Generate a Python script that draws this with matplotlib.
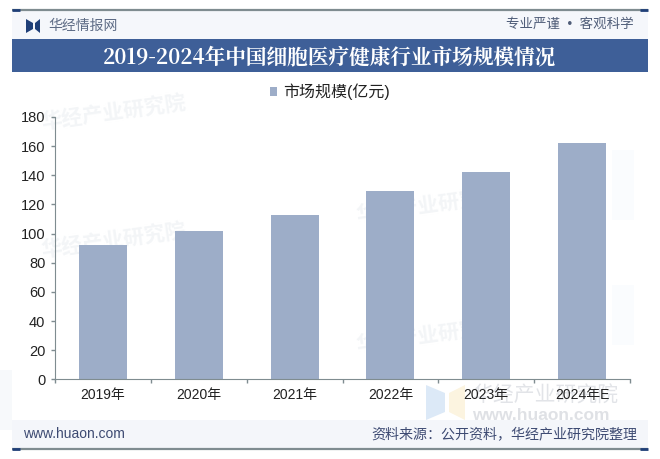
# 2019-2024 cell therapy market size bar chart

import matplotlib.pyplot as plt
from matplotlib.patches import Rectangle, Polygon

plt.rcParams['font.family'] = ['Liberation Sans', 'Noto Sans CJK SC', 'DejaVu Sans']

# Data
years = ['2019年', '2020年', '2021年', '2022年', '2023年', '2024年E']
values = [92, 102, 113, 129, 142, 162]
y_ticks = [0, 20, 40, 60, 80, 100, 120, 140, 160, 180]

W, H = 660, 459
BLUE = '#3e5f98'
BAR = '#9dadc8'
GREY = '#7f8c90'
DARK = '#1f3f78'
CJK = ['Noto Sans CJK SC', 'DejaVu Sans']

fig = plt.figure(figsize=(W / 100, H / 100), dpi=100)

# page layer in pixel coordinates
bg = fig.add_axes([0, 0, 1, 1])
bg.set_xlim(0, W)
bg.set_ylim(H, 0)
bg.axis('off')

# faint background tints
bg.add_patch(Rectangle((12, 11), 636, 28, color='#f5f7fb', lw=0))
bg.add_patch(Rectangle((12, 420), 636, 29, color='#f4f6fa', lw=0))
bg.add_patch(Rectangle((0, 370), 12, 60, color='#f7f9fb', lw=0))
bg.add_patch(Rectangle((612, 150), 22, 70, color='#fafcfe', lw=0))
bg.add_patch(Rectangle((612, 285), 22, 60, color='#fafcfe', lw=0))

# watermarks
for x, y in [(40, 112), (40, 240), (355, 205), (355, 335)]:
    bg.text(x, y, '华经产业研究院', fontsize=15, color='#f3f5f7', rotation=8,
            ha='left', va='center', weight='bold', family=CJK)
bg.add_patch(Polygon([(426, 385), (445, 393), (445, 412), (426, 420)], color='#dce9f7', lw=0))
bg.add_patch(Polygon([(465, 385), (449, 393), (449, 412), (465, 420)], color='#fcf4e0', lw=0))
bg.text(472, 396, '华经产业研究院', fontsize=15, color='#e2e4e8', ha='left', va='center', family=CJK)
bg.text(472, 416, 'www.huaon.com', fontsize=12.5, color='#dfe1e5', ha='left', va='center',
        family='Liberation Sans', weight='bold')

# header and footer rules
bg.plot([12, 648], [10, 10], color=GREY, lw=1.6, solid_capstyle='butt')
bg.plot([12, 20], [10, 10], color=DARK, lw=2, solid_capstyle='butt')
bg.plot([640, 648], [10, 10], color=DARK, lw=2, solid_capstyle='butt')
bg.plot([12, 648], [449, 449], color=GREY, lw=1.6, solid_capstyle='butt')
bg.plot([12, 20], [449, 449], color=DARK, lw=2, solid_capstyle='butt')
bg.plot([640, 648], [449, 449], color=DARK, lw=2, solid_capstyle='butt')

# logo
bg.add_patch(Polygon([(26, 19), (33, 23), (33, 29), (26, 33)], color=DARK, lw=0))
bg.add_patch(Polygon([(40, 19), (35, 23), (35, 29), (40, 33)], color=DARK, lw=0))
bg.text(48, 26, '华经情报网', fontsize=10, color='#5d6b85', ha='left', va='center', family=CJK)
bg.text(634, 24.5, '专业严谨  •  客观科学', fontsize=9.7, color='#4f5d78', ha='right', va='center',
        family=['Liberation Sans', 'Noto Sans CJK SC'])

# title band
bg.add_patch(Rectangle((12, 39), 636, 33, color=BLUE, lw=0))
bg.text(329.5, 57, '2019-2024年中国细胞医疗健康行业市场规模情况', fontsize=14.9, color='white',
        ha='center', va='center', weight='bold', family=['Noto Serif CJK SC', 'Noto Sans CJK SC', 'DejaVu Sans'])

# footer text
bg.text(23, 434, 'www.huaon.com', fontsize=10, color='#3d4a72', ha='left', va='center',
        family='Liberation Sans')
bg.text(637, 435, '资料来源：公开资料，华经产业研究院整理', fontsize=10.1, color='#3d4a72',
        ha='right', va='center', family=CJK)

# chart
ax = fig.add_axes([55 / W, 1 - 379.3 / H, 575 / W, 262.3 / H])
ax.patch.set_alpha(0)
ax.bar(range(len(years)), values, width=0.5, color=BAR, label='市场规模(亿元)')
ax.set_xlim(-0.5, len(years) - 0.5)
ax.set_ylim(0, 180)
ax.set_yticks(y_ticks)
ax.tick_params(axis='y', labelsize=10.5, length=3, color=GREY, width=1, pad=4, labelcolor='#222222')

# ticks sit between the categories, labels under the bars
ax.set_xticks([i - 0.5 for i in range(len(years) + 1)])
ax.set_xticklabels([])
ax.tick_params(axis='x', length=3, color=GREY, width=1)
ax.set_xticks(range(len(years)), minor=True)
ax.set_xticklabels(years, minor=True, fontsize=10, color='#222222')
ax.tick_params(axis='x', which='minor', length=0, pad=6)

ax.spines['top'].set_visible(False)
ax.spines['right'].set_visible(False)
ax.spines['left'].set_color(GREY)
ax.spines['bottom'].set_color(GREY)

ax.legend(loc='center', bbox_to_anchor=((330 - 55) / 575, (379.3 - 92) / 262.3), frameon=False,
          fontsize=11.5, handlelength=0.45, handleheight=0.45, handletextpad=0.4, labelcolor='#222222')

fig.savefig('out.png', dpi=100)
